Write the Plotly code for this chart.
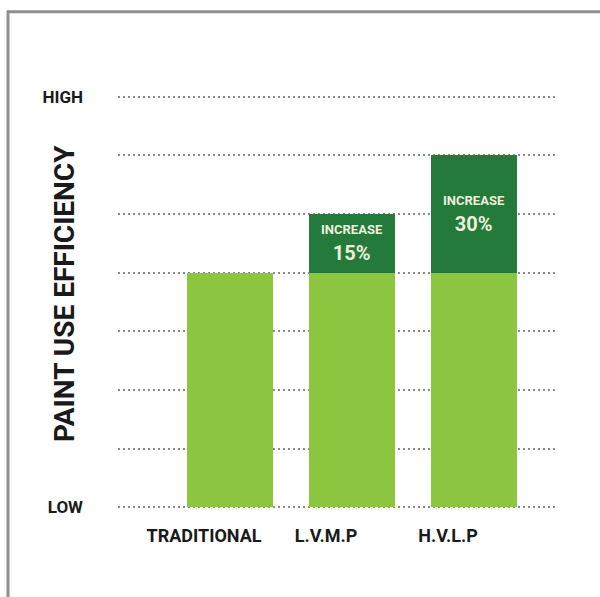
import plotly.graph_objects as go

# Paint use efficiency by spray method (index scale, steps of 15 points)
methods = ["TRADITIONAL", "L.V.M.P", "H.V.L.P"]
base_efficiency = [60, 60, 60]
increase = [0, 15, 30]

grid_steps = [0, 15, 30, 45, 60, 75, 90, 105]
grid_labels = ["LOW", "", "", "", "", "", "", "HIGH"]

W, H = 600, 597
FONT = "Roboto, Liberation Sans Narrow, DejaVu Sans Condensed, sans-serif"
LIGHT = "#8cc540"
DARK = "#237a3a"

# labels on the increase segments, built from the increase values
increase_labels = [
    f"<span style='font-size:13px'>INCREASE</span><br>{v}%" if v else ""
    for v in increase
]

# plot area geometry (pixels)
left, right = 118, 555
y_top_px, y_low_px = 97, 507
y_min, y_max = -2, 107
px_per_unit = (y_low_px - y_top_px) / (grid_steps[-1] - grid_steps[0])
m_t = y_top_px - (y_max - grid_steps[-1]) * px_per_unit
m_b = (H - y_low_px) - (grid_steps[0] - y_min) * px_per_unit
m_l, m_r = left, W - right
plot_w = W - m_l - m_r
plot_h = H - m_t - m_b

fig = go.Figure()
fig.add_trace(go.Bar(
    x=methods, y=base_efficiency, marker=dict(color=LIGHT, line=dict(width=0)),
    width=0.70, hoverinfo="skip",
))
fig.add_trace(go.Bar(
    x=methods, y=increase, marker=dict(color=DARK, line=dict(width=0)),
    width=0.70, text=increase_labels,
    textposition="inside", insidetextanchor="middle", constraintext="none",
    textfont=dict(family=FONT, size=20, color="#eef0dc", weight="bold"),
    hoverinfo="skip",
))


def px_to_paper_x(px):
    return (px - m_l) / plot_w


def px_to_paper_y(py):
    return (H - m_b - py) / plot_h


fig.update_layout(
    width=W, height=H,
    margin=dict(l=m_l, r=m_r, t=m_t, b=m_b, pad=0),
    barmode="stack",
    showlegend=False,
    uniformtext=dict(mode=False),
    plot_bgcolor="white", paper_bgcolor="white",
    xaxis=dict(
        type="category", range=[-0.918, 2.664],
        showgrid=False, zeroline=False, showline=False, ticks="",
        tickfont=dict(family=FONT, size=18, color="#1a1a1a", weight="bold"),
        ticklabelstandoff=8, ticklabelshift=-26,
    ),
    yaxis=dict(
        range=[y_min, y_max], tickvals=grid_steps, ticktext=grid_labels,
        showgrid=True, gridcolor="#8a8a8a", gridwidth=1.6, griddash="2px,3px",
        zeroline=False, showline=False, ticks="",
        tickfont=dict(family=FONT, size=17, color="#1a1a1a", weight="bold"),
        ticklabelstandoff=34,
    ),
    annotations=[dict(
        text="PAINT USE EFFICIENCY", textangle=-90, showarrow=False,
        xref="paper", yref="paper",
        x=px_to_paper_x(65), y=px_to_paper_y(294),
        xanchor="center", yanchor="middle",
        font=dict(family=FONT, size=28, color="#1a1a1a", weight="bold"),
    )],
    shapes=[
        # outer frame: left and top edges
        dict(type="line", xref="paper", yref="paper",
             x0=px_to_paper_x(8), x1=px_to_paper_x(8),
             y0=px_to_paper_y(11), y1=px_to_paper_y(H + 5),
             line=dict(color="#8f8f8f", width=3), layer="above"),
        dict(type="line", xref="paper", yref="paper",
             x0=px_to_paper_x(7), x1=px_to_paper_x(W + 5),
             y0=px_to_paper_y(12), y1=px_to_paper_y(12),
             line=dict(color="#8f8f8f", width=3), layer="above"),
    ],
)

fig.write_html("out.html")
